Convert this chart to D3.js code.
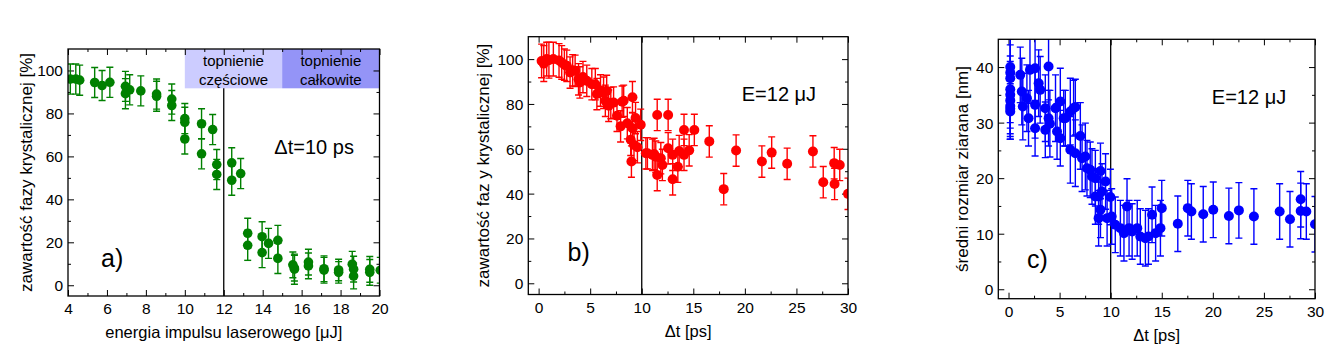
<!DOCTYPE html>
<html><head><meta charset="utf-8">
<script src="https://cdn.jsdelivr.net/npm/d3@7"></script>
<style>
body{margin:0;background:#fff}
svg{display:block}
text{font-family:Arial,"Liberation Sans",sans-serif;fill:#000}
</style>
</head><body>
<svg id="chart" width="1340" height="364"></svg>
<script>
// ---------- Panel a) : crystalline fraction vs laser pulse energy ----------
const aX = [4.12,4.4,4.6,5.37,5.75,6.15,6.95,6.95,7.17,7.74,8.55,8.55,9.33,9.33,10.0,10.0,10.0,10.86,10.86,11.43,11.64,11.64,12.41,12.41,12.87,13.23,13.23,13.97,13.97,14.3,14.78,14.78,15.55,15.63,15.63,16.35,16.35,17.15,17.15,17.9,17.9,18.6,18.67,18.67,19.5,19.5,20.04];
const aY = [96,96,95.5,94.4,93,94.5,92.6,89.2,91,90.5,89,88,86.7,83.7,77.6,75.9,68.1,75.2,61.2,72.5,56.2,51.6,57,48.9,52,24.2,18.6,22.6,15.2,19.5,20.9,12.5,9.5,8,7.5,10.8,9,7.7,7,7.1,6,9.8,4.3,7.5,7.4,6,7];
const aErr = [7,7,7,7,7,7,7,7,7,7,7,7,7,7,7,7,7,7,7,7,7,7,7,7,7,7,7,7,7,7,7,7,6,6,7,6,6,6,6,5,5,6,6,6,6,6,6];
const aXTicks = [4,6,8,10,12,14,16,18,20];
const aYTicks = [0,20,40,60,80,100];
const aBands = [[10,15],[15,20]];
const aBandLabels = [["topnienie","częściowe"],["topnienie","całkowite"]];

// ---------- Panel b) : crystalline fraction vs delay ----------
const bX = [0.29,0.5,0.78,1.0,1.43,1.98,2.24,2.5,2.73,3.05,3.3,3.54,3.87,4.0,4.3,4.67,5.16,5.5,5.65,6.0,6.3,6.6,6.47,6.79,7.0,7.27,7.6,7.95,8.1,8.25,8.6,8.93,9.0,9.1,9.1,9.25,9.4,9.58,9.9,10.4,10.55,11.04,11.2,11.36,11.5,11.5,11.85,12.0,12.56,12.56,13.0,13.0,13.5,13.63,14.1,14.1,14.6,15.1,16.55,17.95,19.15,21.65,22.6,24.1,26.6,27.6,28.66,28.7,29.2,30.0];
const bY = [99.2,98,100,99.5,100,99.4,98.5,97.5,97,94,95,94.8,91,89.6,92,90.3,88.8,88.8,84.4,86,85,85.8,81.4,79.2,80.4,80.6,74.7,70,81,81.4,71.4,64,54.3,83,69.2,61.7,73.7,60.7,70.7,58,58,57.3,57.7,56.5,75.1,48.3,55.8,52.8,75.1,60.2,46.4,57.3,52,59,68.4,57.3,59.3,68.4,63.3,42,59.2,54.3,58.3,53.3,58.8,45.1,53.6,44.3,52.8,39.9];
const bErr = [7.5,8,7.5,8,7.5,7.5,7.5,7,7,7,7,7,7,7,7,7,7,7,7,7,7,7,7,7,7,7,7,7,7,7,7,7,7,7,7,7,7,7,7,7,7,7,7,7,7,7,7,7,7,7,7,7,7,7,7,7,7,7,7,7,7,7,7,7,7,7,7,7,7,7];
const bXTicks = [0,5,10,15,20,25,30];
const bYTicks = [0,20,40,60,80,100];

// ---------- Panel c) : mean grain size vs delay ----------
const cX = [0.17,0.17,0.17,0.17,0.17,0.17,0.17,0.17,0.17,1.15,1.3,1.4,1.8,1.96,2.1,2.6,2.6,2.6,2.95,3.1,3.6,3.6,3.92,3.92,4.05,4.6,4.75,5.07,5.07,5.4,5.56,6.05,6.05,6.37,6.54,6.54,7.03,7.2,7.52,7.68,8.0,8.17,8.5,8.5,8.82,8.82,9.0,9.0,9.15,9.5,9.65,9.97,10.1,10.45,10.95,11.3,11.6,11.8,12.1,12.6,12.9,13.4,13.7,14.05,14.4,14.87,15.0,16.57,17.55,17.9,19.06,20.04,21.57,22.55,24.02,26.54,27.55,28.6,28.6,29.15,30.0];
const cY = [40,39,38,36,35,34,33,32.5,32,38.6,35.6,32.9,34.4,30.8,39.5,39.8,33.2,29,37.1,35.9,32.6,28.7,40.1,30.8,29.8,32.6,28.4,33.8,27.2,30.8,30.8,25.1,32,32.6,24.5,32.8,27.6,23.6,23.9,21.8,21.5,20.3,20,16.7,16.7,12.8,21.3,14.3,17.6,19.4,12.8,16.6,13.1,11.6,11,10.1,14.9,11,10.4,11,9.5,9.2,9.5,13.4,10.1,11,14.6,11.8,14.6,14,13.5,14.3,13.2,14.2,13.1,14,12.6,16.2,14.1,14,11.7];
const cErr = [6,6,6,6,6,6,6,5,5,5,6,6,6,5,6,6,6,5,6,6,6,5,6,5,6,6,5,6,5,5,5,6,6,5,6,5,6,6,6,5,5,5,5,5,5,5,5,5,5,5,5,5,5,5,5,5,5,5,5,5,5,5,5,5,5,5,5,5,5,5,5,5,5,5,5,5,5,5,5,5,5];
const cXTicks = [0,5,10,15,20,25,30];
const cYTicks = [0,10,20,30,40];

const svg = d3.select("#chart");
const defs = svg.append("defs");

function minorBetween(major, step){
  const out=[];
  for(let i=0;i<major.length-1;i++){ out.push(major[i]+step); }
  return out;
}

function panel(o){
  const x = d3.scaleLinear().domain(o.xDomain).range([o.left,o.right]);
  const y = d3.scaleLinear().domain(o.yDomain).range([o.bottom,o.top]);
  const W = o.right-o.left, H = o.bottom-o.top;
  defs.append("clipPath").attr("id","clip"+o.id)
    .append("rect").attr("x",o.left).attr("y",o.top).attr("width",W).attr("height",H);
  const g = svg.append("g");
  if(o.before) o.before(g,x,y);

  const mk = (axis, ticks, size, fmt) => axis.tickValues(ticks).tickSizeInner(size).tickSizeOuter(0).tickFormat(fmt);
  const noLab = () => "";
  const fmt = d3.format("d");
  const axes = [
    [d3.axisBottom(x), o.xTicks, -6, fmt, `translate(0,${o.bottom})`],
    [d3.axisBottom(x), o.xMinor, -3, noLab, `translate(0,${o.bottom})`],
    [d3.axisTop(x), o.xTicks, -6, noLab, `translate(0,${o.top})`],
    [d3.axisTop(x), o.xMinor, -3, noLab, `translate(0,${o.top})`],
    [d3.axisLeft(y), o.yTicks, -6, fmt, `translate(${o.left},0)`],
    [d3.axisLeft(y), o.yMinor, -3, noLab, `translate(${o.left},0)`],
    [d3.axisRight(y), o.yTicks, -6, noLab, `translate(${o.right},0)`],
    [d3.axisRight(y), o.yMinor, -3, noLab, `translate(${o.right},0)`]
  ];
  axes.forEach(([ax,t,s,f,tr],i)=>{
    const a = g.append("g").attr("transform",tr).call(mk(ax,t,s,f));
    a.select(".domain").remove();
    a.selectAll("line").attr("stroke","#000").attr("stroke-width",1);
    a.selectAll("text").attr("font-size",15.5).style("font-family","Arial, 'Liberation Sans', sans-serif");
    if(i===0) a.selectAll("text").attr("dy",0).attr("y",18);
    if(i===4) a.selectAll("text").attr("x",-5).attr("dy","0.35em");
  });

  g.append("line").attr("x1",x(o.vline)).attr("x2",x(o.vline))
    .attr("y1",o.vlineTop!==undefined?y(o.vlineTop):o.top).attr("y2",o.bottom)
    .attr("stroke","#000").attr("stroke-width",1.3);

  const dg = g.append("g").attr("clip-path",`url(#clip${o.id})`);
  const data = o.xs.map((v,i)=>({x:v,y:o.ys[i],e:o.es[i]}));
  const eb = dg.selectAll("g.eb").data(data).join("g").attr("class","eb")
    .attr("stroke",o.color).attr("stroke-width",1.4);
  eb.append("line").attr("x1",d=>x(d.x)).attr("x2",d=>x(d.x)).attr("y1",d=>y(d.y-d.e)).attr("y2",d=>y(d.y+d.e));
  eb.append("line").attr("x1",d=>x(d.x)-3.5).attr("x2",d=>x(d.x)+3.5).attr("y1",d=>y(d.y+d.e)).attr("y2",d=>y(d.y+d.e));
  eb.append("line").attr("x1",d=>x(d.x)-3.5).attr("x2",d=>x(d.x)+3.5).attr("y1",d=>y(d.y-d.e)).attr("y2",d=>y(d.y-d.e));
  dg.selectAll("circle").data(data).join("circle")
    .attr("cx",d=>x(d.x)).attr("cy",d=>y(d.y)).attr("r",o.r).attr("fill",o.color);

  g.append("rect").attr("x",o.left).attr("y",o.top).attr("width",W).attr("height",H)
    .attr("fill","none").attr("stroke","#000").attr("stroke-width",1.3);

  g.append("text").attr("x",(o.left+o.right)/2).attr("y",o.bottom+42)
    .attr("text-anchor","middle").attr("font-size",16.5).text(o.xTitle);
  g.append("text").attr("transform",`translate(${o.yTitleX},${(o.top+o.bottom)/2}) rotate(-90)`)
    .attr("text-anchor","middle").attr("font-size",17).text(o.yTitle);
  g.append("text").attr("x",x(o.tagPos[0])).attr("y",y(o.tagPos[1])).attr("font-size",25).text(o.tag);
  g.append("text").attr("x",x(o.notePos[0])).attr("y",y(o.notePos[1])).attr("font-size",20).text(o.note);
}

panel({
  id:"a", left:68, right:379.5, top:49, bottom:296,
  xDomain:[4,20], yDomain:[-5,110],
  xTicks:aXTicks, xMinor:minorBetween(aXTicks,1), yTicks:aYTicks, yMinor:minorBetween(aYTicks,10),
  xs:aX, ys:aY, es:aErr, color:"#008000", r:4.8,
  vline:12, vlineTop:91.7,
  xTitle:"energia impulsu laserowego [μJ]", yTitle:"zawartość fazy krystalicznej [%]", yTitleX:32,
  tag:"a)", tagPos:[5.7,8.5], note:"Δt=10 ps", notePos:[14.6,61],
  before:(g,x,y)=>{
    const fills=["#ccccff","#9494f7"];
    aBands.forEach((b,i)=>{
      g.append("rect").attr("x",x(b[0])).attr("y",y(110)).attr("width",x(b[1])-x(b[0]))
        .attr("height",y(91.7)-y(110)).attr("fill",fills[i]);
      aBandLabels[i].forEach((t,j)=>{
        g.append("text").attr("x",(x(b[0])+x(b[1]))/2).attr("y",y(110)+17+j*18.5)
          .attr("text-anchor","middle").attr("font-size",15).text(t);
      });
    });
  }
});

panel({
  id:"b", left:528.3, right:848, top:36.7, bottom:294.5,
  xDomain:[-1,30], yDomain:[-5,110],
  xTicks:bXTicks, xMinor:minorBetween(bXTicks,2.5), yTicks:bYTicks, yMinor:minorBetween(bYTicks,10),
  xs:bX, ys:bY, es:bErr, color:"#ff0000", r:5,
  vline:10,
  xTitle:"Δt [ps]", yTitle:"zawartość faz y krystalicznej [%]", yTitleX:489,
  tag:"b)", tagPos:[2.8,9.8], note:"E=12 μJ", notePos:[19.7,81.5]
});

panel({
  id:"c", left:998.3, right:1315, top:39.3, bottom:298.7,
  xDomain:[-1,30], yDomain:[-1.7,45],
  xTicks:cXTicks, xMinor:minorBetween(cXTicks,2.5), yTicks:cYTicks, yMinor:minorBetween(cYTicks,5),
  xs:cX, ys:cY, es:cErr, color:"#0000ff", r:5,
  vline:10,
  xTitle:"Δt [ps]", yTitle:"średni rozmiar ziarana  [nm]", yTitleX:968,
  tag:"c)", tagPos:[1.8,3.8], note:"E=12 μJ", notePos:[19.9,33.3]
});
</script>
</body></html>
